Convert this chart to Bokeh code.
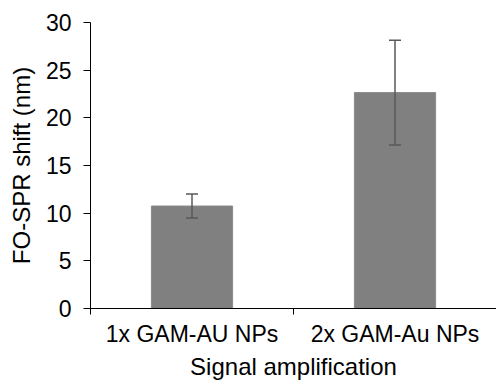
from bokeh.plotting import figure
from bokeh.models import ColumnDataSource, Whisker, TeeHead, FixedTicker, Range1d
from bokeh.embed import file_html
from bokeh.resources import INLINE

categories = ["1x GAM-AU NPs", "2x GAM-Au NPs"]
shift_nm = [10.75, 22.65]
error_nm = [1.25, 5.5]
y_ticks = [0, 5, 10, 15, 20, 25, 30]

xpos = [i + 0.5 for i in range(len(categories))]
src = ColumnDataSource(dict(
    x=xpos, top=shift_nm,
    lower=[v - e for v, e in zip(shift_nm, error_nm)],
    upper=[v + e for v, e in zip(shift_nm, error_nm)],
))

FONT = "Liberation Sans"
p = figure(width=496, height=384, output_backend="svg", toolbar_location=None,
           x_range=Range1d(0, len(categories)), y_range=Range1d(0, 30),
           min_border_left=90, min_border_right=0, min_border_top=22, min_border_bottom=76)
p.outline_line_color = None
p.grid.visible = False
p.background_fill_color = "white"
p.border_fill_color = "white"

p.vbar(x="x", top="top", width=0.4, source=src, fill_color="#808080", line_color="#8a8a8a", line_width=1)
w = Whisker(base="x", lower="lower", upper="upper", source=src, level="annotation",
            line_color="#595959", line_width=1.5,
            upper_head=TeeHead(size=12, line_color="#595959", line_width=1.5),
            lower_head=TeeHead(size=12, line_color="#595959", line_width=1.5))
p.add_layout(w)

p.xaxis.ticker = FixedTicker(ticks=xpos, minor_ticks=list(range(len(categories) + 1)))
p.xaxis.major_label_overrides = {x: c for x, c in zip(xpos, categories)}
p.xaxis.major_tick_line_color = None
p.xaxis.minor_tick_line_color = "black"
p.xaxis.minor_tick_out = 6
p.xaxis.minor_tick_in = 0
p.xaxis.axis_label = "Signal amplification"

p.yaxis.ticker = FixedTicker(ticks=y_ticks)
p.yaxis.minor_tick_line_color = None
p.yaxis.major_tick_out = 7
p.yaxis.major_tick_in = 0
p.yaxis.axis_label = "FO-SPR shift (nm)"

for ax in (p.xaxis, p.yaxis):
    ax.axis_line_color = "black"
    ax.axis_line_width = 1
    ax.major_label_text_font = FONT
    ax.major_label_text_font_size = "23px"
    ax.major_label_text_color = "black"
    ax.axis_label_text_font = FONT
    ax.axis_label_text_font_size = "24px"
    ax.axis_label_text_font_style = "normal"
    ax.axis_label_text_color = "black"

p.yaxis.major_label_standoff = 12
p.yaxis.axis_label_standoff = 8
p.xaxis.major_label_standoff = 6
p.xaxis.axis_label_standoff = 3

open("out.html", "w").write(file_html(p, INLINE))
